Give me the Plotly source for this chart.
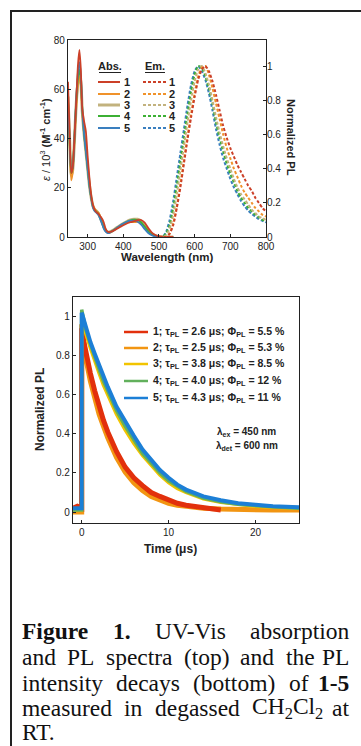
import re
import plotly.graph_objects as go

W, H = 361, 746
def px(x): return x / W
def py(y): return 1 - y / H

# ---------------- data: absorption (top) ----------------
abs_wl = [245, 250, 254, 258, 263, 268, 273, 277, 281, 285, 290, 295, 300, 305, 310, 315,
          320, 325, 330, 335, 340, 345, 350, 355, 360, 370, 380, 390, 400, 410, 420, 430,
          440, 450, 460, 470, 480, 490, 500, 510, 520, 540]
abs_1 = [63, 40, 26, 28, 40, 55, 70, 76, 68, 52, 47, 43, 33, 24, 17, 13, 11, 10, 9.5, 8.5, 7.5,
         6, 3.5, 2.3, 2.0, 2.4, 3.2, 4.0, 4.8, 5.5, 6.0, 6.4, 6.8, 6.9, 5.8, 3.6, 1.8, 0.8, 0.3,
         0.1, 0, 0]
abs_2 = [56, 36, 23, 26, 38, 52, 62, 65, 62, 50, 42, 36, 29, 22, 16, 13, 11.5, 10.5, 10, 8.5, 6,
         4, 2.8, 2, 1.8, 2.4, 3.4, 4.4, 5.2, 5.8, 6.0, 6.0, 6.1, 5.6, 4.2, 2.6, 1.2, 0.5, 0.2,
         0, 0, 0]
abs_3 = [57, 38, 25, 27, 39, 54, 63, 66, 63, 51, 42, 35, 28, 21, 16, 12.5, 11, 10.5, 9.5, 8, 6.2,
         4.2, 2.8, 2.1, 1.9, 2.6, 3.6, 4.6, 5.5, 6.3, 6.9, 7.2, 7.2, 6.4, 4.6, 2.6, 1.2, 0.5, 0.2,
         0, 0, 0]
abs_4 = [56, 37, 26, 28, 40, 55, 65, 68, 64, 52, 42, 35, 28, 21, 16, 12.3, 10.8, 10.2, 9.3, 7.8,
         6.0, 4.0, 2.6, 2.0, 1.8, 2.5, 3.5, 4.5, 5.4, 6.2, 6.8, 7.0, 6.9, 6.0, 4.2, 2.3, 1.0, 0.4,
         0.1, 0, 0, 0]
abs_5 = [55, 38, 27, 28, 40, 56, 67, 71, 66, 52, 42, 35, 28, 21, 16, 12, 10.5, 9.8, 9, 7.5, 5.5,
         3.5, 2.3, 1.7, 1.6, 2.4, 3.5, 4.6, 5.5, 6.2, 6.6, 6.6, 6.2, 5.0, 3.2, 1.6, 0.7, 0.2, 0,
         0, 0, 0]

# ---------------- data: emission (top, right axis) ----------------
em_wl = [500, 510, 520, 530, 540, 550, 560, 570, 580, 590, 600, 610, 620, 630, 640, 650, 660,
         670, 680, 690, 700, 710, 720, 730, 740, 750, 760, 770, 780, 790, 800]
em_1 = [0, 0, 0, 0.02, 0.07, 0.17, 0.29, 0.43, 0.57, 0.70, 0.82, 0.92, 0.98, 1.0, 0.97, 0.91,
        0.83, 0.74, 0.65, 0.58, 0.52, 0.47, 0.42, 0.38, 0.34, 0.30, 0.27, 0.23, 0.20, 0.17, 0.15]
em_2 = [0, 0, 0, 0.02, 0.08, 0.18, 0.31, 0.45, 0.59, 0.72, 0.84, 0.94, 0.99, 1.0, 0.95, 0.87,
        0.78, 0.69, 0.60, 0.52, 0.46, 0.40, 0.35, 0.30, 0.26, 0.23, 0.20, 0.17, 0.15, 0.13, 0.12]
em_3 = [0, 0, 0.01, 0.05, 0.13, 0.25, 0.39, 0.53, 0.67, 0.80, 0.91, 0.98, 1.0, 0.96, 0.89, 0.80,
        0.70, 0.61, 0.53, 0.46, 0.40, 0.34, 0.29, 0.25, 0.22, 0.19, 0.16, 0.14, 0.12, 0.11, 0.10]
em_4 = [0, 0, 0.02, 0.07, 0.17, 0.30, 0.44, 0.58, 0.72, 0.85, 0.95, 1.0, 0.99, 0.94, 0.87, 0.78,
        0.67, 0.58, 0.50, 0.43, 0.37, 0.32, 0.27, 0.23, 0.20, 0.17, 0.15, 0.13, 0.115, 0.10, 0.09]
em_5 = [0, 0, 0.03, 0.10, 0.21, 0.35, 0.49, 0.63, 0.77, 0.89, 0.97, 1.0, 0.97, 0.92, 0.84, 0.74,
        0.63, 0.54, 0.46, 0.40, 0.34, 0.29, 0.25, 0.21, 0.18, 0.155, 0.135, 0.12, 0.105, 0.095,
        0.085]

# ---------------- data: PL decays (bottom) ----------------
t_all = [-1.0, -0.5, 0, 0, 0.25, 0.5, 1, 1.5, 2, 2.5, 3, 4, 5, 6, 7, 8, 9, 10, 11, 12, 14, 16,
         18, 20, 22, 25]
dec_1 = [0.02, 0.03, 0.02, 0.94, 0.87, 0.81, 0.71, 0.62, 0.54, 0.47, 0.41, 0.31, 0.23, 0.175,
         0.135, 0.10, 0.08, 0.06, 0.045, 0.035, 0.02, 0.01]
dec_2 = [0.0, 0.0, 0.0, 0.96, 0.86, 0.78, 0.67, 0.58, 0.50, 0.44, 0.38, 0.28, 0.205, 0.15, 0.11,
         0.08, 0.06, 0.045, 0.035, 0.028, 0.02, 0.015, 0.012, 0.01, 0.01, 0.01]
dec_3 = [0.01, 0.01, 0.01, 1.0, 0.95, 0.91, 0.84, 0.77, 0.71, 0.65, 0.60, 0.50, 0.42, 0.35, 0.29,
         0.24, 0.19, 0.15, 0.12, 0.10, 0.068, 0.05, 0.038, 0.03, 0.025, 0.02]
dec_4 = [0.01, 0.01, 0.01, 1.035, 0.97, 0.93, 0.86, 0.79, 0.73, 0.67, 0.62, 0.52, 0.44, 0.37,
         0.30, 0.25, 0.20, 0.16, 0.13, 0.105, 0.072, 0.052, 0.04, 0.032, 0.027, 0.02]
dec_5 = [0.02, 0.02, 0.02, 1.02, 0.98, 0.94, 0.87, 0.81, 0.75, 0.69, 0.64, 0.54, 0.46, 0.39,
         0.32, 0.265, 0.215, 0.175, 0.14, 0.115, 0.08, 0.06, 0.045, 0.037, 0.03, 0.025]

labels = ["1", "2", "3", "4", "5"]
tau = ["2.6", "2.5", "3.8", "4.0", "4.3"]
phi = ["5.5", "5.3", "8.5", "12", "11"]

caption_lines = [
    ["<b>Figure</b>", "<b>1.</b>", "UV-Vis", "absorption"],
    ["and", "PL", "spectra", "(top)", "and", "the", "PL"],
    ["intensity", "decays", "(bottom)", "of", "<b>1-5</b>"],
    ["measured", "in", "degassed", "CH<sub>2</sub>Cl<sub>2</sub>", "at"],
    ["RT."],
]

abs_colors = ["#cc4028", "#f0922a", "#c2b27e", "#3cb034", "#3a7fbf"]
dec_colors = ["#e2300c", "#f29512", "#f2c400", "#62b05c", "#1c7fd6"]

SANS = "Liberation Sans, Arial, sans-serif"
SERIF = "Liberation Serif, Times New Roman, serif"
INK = "#222"

fig = go.Figure()

abs_series = [abs_1, abs_2, abs_3, abs_4, abs_5]
em_series = [em_1, em_2, em_3, em_4, em_5]
dec_series = [dec_1, dec_2, dec_3, dec_4, dec_5]

for i in [2, 1, 3, 4, 0]:
    fig.add_trace(go.Scatter(x=abs_wl, y=abs_series[i], mode="lines", xaxis="x", yaxis="y",
                             line=dict(color=abs_colors[i], width=3 if i == 2 else 1.8,
                                       shape="spline", smoothing=0.6),
                             showlegend=False, hoverinfo="skip"))
for i in [4, 3, 2, 1, 0]:
    fig.add_trace(go.Scatter(x=em_wl, y=em_series[i], mode="lines", xaxis="x", yaxis="y2",
                             line=dict(color=abs_colors[i], width=2, dash="3px,2px",
                                       shape="spline", smoothing=0.6),
                             showlegend=False, hoverinfo="skip"))
dec_widths = [5, 5, 3.5, 3.5, 4]
for i in [1, 0, 2, 3, 4]:
    fig.add_trace(go.Scatter(x=t_all[:len(dec_series[i])], y=dec_series[i], mode="lines",
                             xaxis="x2", yaxis="y3",
                             line=dict(color=dec_colors[i], width=dec_widths[i]),
                             showlegend=False, hoverinfo="skip"))

axis_common = dict(showline=True, linecolor=INK, linewidth=1.3, mirror=True,
                   ticks="inside", ticklen=3, tickwidth=1, tickcolor=INK,
                   showgrid=False, zeroline=False, automargin=False,
                   tickfont=dict(family=SANS, size=10, color=INK))

fig.update_layout(
    template="none",
    width=W, height=H, margin=dict(l=0, r=0, t=0, b=0, pad=0, autoexpand=False),
    paper_bgcolor="white", plot_bgcolor="white", showlegend=False,
    xaxis=dict(domain=[px(68), px(266)], range=[245, 800], anchor="y",
               tickvals=[300, 400, 500, 600, 700, 800], **axis_common),
    yaxis=dict(domain=[py(237), py(40)], range=[0, 80], anchor="x",
               tickvals=[0, 20, 40, 60, 80], **axis_common),
    yaxis2=dict(overlaying="y", side="right", anchor="x", range=[0, 197 / 171],
                tickvals=[0, 0.2, 0.4, 0.6, 0.8, 1], ticktext=["0", "0.2", "0.4", "0.6", "0.8", "1"],
                showline=False, ticks="inside", ticklen=3, tickcolor=INK, showgrid=False,
                zeroline=False, automargin=False,
                tickfont=dict(family=SANS, size=10, color=INK)),
    xaxis2=dict(domain=[px(73), px(299)], range=[-1, 25], anchor="y3",
                tickvals=[0, 10, 20], **axis_common),
    yaxis3=dict(domain=[py(523), py(297)], range=[-0.056, 1.1], anchor="x2",
                tickvals=[0, 0.2, 0.4, 0.6, 0.8, 1],
                ticktext=["0", "0.2", "0.4", "0.6", "0.8", "1"], **axis_common),
)

ann = []
shapes = []

def note(x, y, text, size, xa="center", ya="middle", angle=0, family=SANS, color=INK):
    ann.append(dict(x=px(x), y=py(y), xref="paper", yref="paper", xanchor=xa, yanchor=ya,
                    textangle=angle, text=text, showarrow=False,
                    font=dict(family=family, size=size, color=color)))

# axis titles
note(45, 140, "<i>ε</i> / 10<sup>3</sup> <b>(M<sup>-1</sup> cm<sup>-1</sup>)</b>", 11, angle=-90)
note(167, 257, "<b>Wavelength (nm)</b>", 11.5)
note(291, 137, "<b>Normalized PL</b>", 11, angle=90)
note(40, 410, "<b>Normalized PL</b>", 12, angle=-90)
note(170, 549, "<b>Time (μs)</b>", 12)

# top legend (manual)
note(110, 66, "<b>Abs.</b>", 11)
note(155, 66, "<b>Em.</b>", 11)
shapes.append(dict(type="line", xref="paper", yref="paper", x0=px(99), x1=px(121),
                   y0=py(72.5), y1=py(72.5), line=dict(color=INK, width=1)))
shapes.append(dict(type="line", xref="paper", yref="paper", x0=px(145), x1=px(165),
                   y0=py(72.5), y1=py(72.5), line=dict(color=INK, width=1)))
row_y = [82, 94, 105, 116, 128]
for i in range(5):
    yy = row_y[i]
    shapes.append(dict(type="line", xref="paper", yref="paper", x0=px(98), x1=px(120),
                       y0=py(yy), y1=py(yy),
                       line=dict(color=abs_colors[i], width=3 if i == 2 else 2)))
    shapes.append(dict(type="line", xref="paper", yref="paper", x0=px(143), x1=px(166),
                       y0=py(yy), y1=py(yy),
                       line=dict(color=abs_colors[i], width=2, dash="3px,2px")))
    note(122, yy, "<b>%s</b>" % labels[i], 11, xa="left")
    note(167, yy, "<b>%s</b>" % labels[i], 11, xa="left")

# bottom legend (manual)
drow = [332, 348, 364, 381, 398]
for i in range(5):
    yy = drow[i]
    shapes.append(dict(type="line", xref="paper", yref="paper", x0=px(124), x1=px(148),
                       y0=py(yy), y1=py(yy), line=dict(color=dec_colors[i], width=2.5)))
    note(151, yy, "<b>%s; τ<sub>PL</sub> = %s μs; Φ<sub>PL</sub> = %s %%</b>"
         % (labels[i], tau[i], phi[i]), 10.5, xa="left")

note(278, 432, "<b>λ<sub>ex</sub> = 450 nm</b>", 10, xa="right")
note(280, 446, "<b>λ<sub>det</sub> = 600 nm</b>", 10, xa="right")

# caption: justified lines (word widths from Times metrics, per 1000 em)
REG = {' ': 250, 'a': 444, 'b': 500, 'c': 444, 'd': 500, 'e': 444, 'f': 333, 'g': 500,
       'h': 500, 'i': 278, 'j': 278, 'k': 500, 'l': 278, 'm': 778, 'n': 500, 'o': 500,
       'p': 500, 'q': 500, 'r': 333, 's': 389, 't': 278, 'u': 500, 'v': 500, 'w': 722,
       'x': 500, 'y': 500, 'z': 444, 'C': 667, 'H': 722, 'L': 611, 'P': 556, 'R': 667,
       'T': 611, 'U': 722, 'V': 722, '(': 333, ')': 333, '-': 333, '.': 250}
BOLD = {'F': 611, 'i': 278, 'g': 500, 'u': 556, 'r': 444, 'e': 444, '1': 500, '.': 250,
        '-': 333, '5': 500}
FS = 23.5
def word_width(w):
    total = 0.0
    bold = w.startswith("<b>")
    plain = re.sub(r"<sub>(.*?)</sub>", lambda m: "\x00" * len(m.group(1)), w)
    plain = re.sub(r"<.*?>", "", plain)
    for ch in plain:
        if ch == "\x00":
            total += 500 * 0.7
        elif bold:
            total += BOLD.get(ch, 500)
        else:
            total += REG.get(ch, 500)
    return total / 1000 * FS

cap_y = [631, 657, 683, 708, 732]
x_left, x_right = 20, 351
for words, yy in zip(caption_lines, cap_y):
    if len(words) == 1:
        note(x_left, yy, words[0], FS, xa="left", family=SERIF, color="#111")
        continue
    widths = [word_width(w) for w in words]
    gap = (x_right - x_left - sum(widths)) / (len(words) - 1)
    xx = x_left
    for k, (w, wd) in enumerate(zip(words, widths)):
        if k == len(words) - 1:
            note(x_right, yy, w, FS, xa="right", family=SERIF, color="#111")
        else:
            note(xx, yy, w, FS, xa="left", family=SERIF, color="#111")
        xx += wd + gap

# outer frame (kept inside the page)
shapes.append(dict(type="line", xref="paper", yref="paper", x0=px(11), x1=px(11),
                   y0=0, y1=py(10), line=dict(color=INK, width=2)))
shapes.append(dict(type="line", xref="paper", yref="paper", x0=px(10), x1=1,
                   y0=py(11), y1=py(11), line=dict(color=INK, width=2)))

fig.update_layout(annotations=ann, shapes=shapes)
fig.write_html("out.html", config={"displayModeBar": False, "responsive": False},
               post_script="document.body.style.margin='0px';document.body.style.overflow='hidden';")
